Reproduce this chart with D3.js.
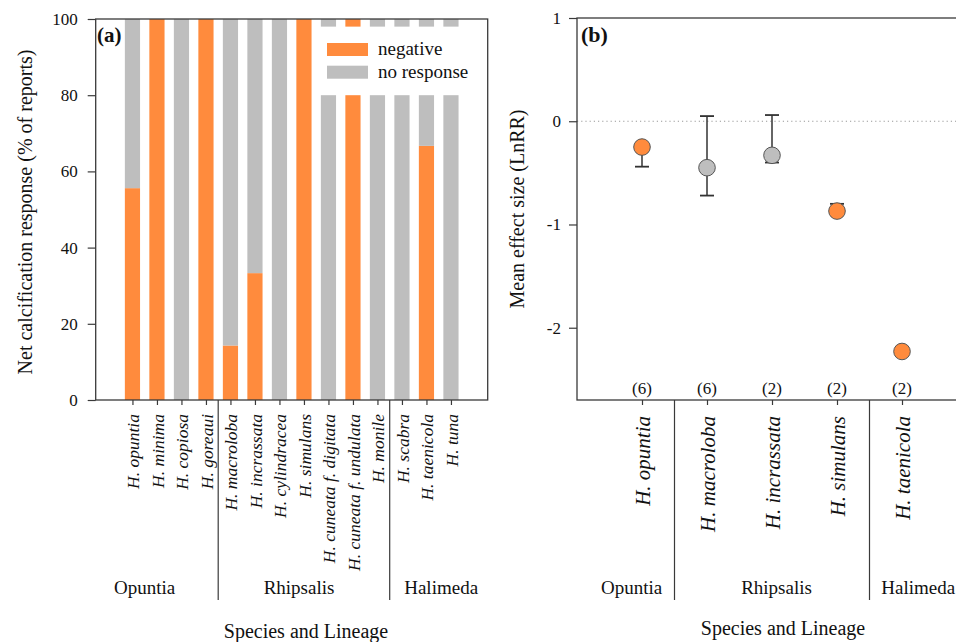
<!DOCTYPE html>
<html>
<head>
<meta charset="utf-8">
<script src="https://cdn.jsdelivr.net/npm/d3@7/dist/d3.min.js"></script>
<style>
body{margin:0;background:#fff;}
svg text{font-family:"Liberation Serif","Times New Roman",serif;fill:#111;}
</style>
</head>
<body>
<svg></svg>
<script>
// panel (a) data
var species = ["H. opuntia","H. minima","H. copiosa","H. goreaui","H. macroloba","H. incrassata",
    "H. cylindracea","H. simulans","H. cuneata f. digitata","H. cuneata f. undulata","H. monile",
    "H. scabra","H. taenicola","H. tuna"]
var negative = [55.6,100,0,100,14.3,33.3,0,100,0,100,0,0,66.7,0]
var brokenBars = ["H. cuneata f. digitata","H. cuneata f. undulata","H. monile","H. scabra","H. taenicola","H. tuna"]
var yTicksA = [0,20,40,60,80,100]

// panel (b) data
var effSpecies = ["H. opuntia","H. macroloba","H. incrassata","H. simulans","H. taenicola"]
var effMean = [-0.25,-0.45,-0.33,-0.87,-2.23]
var effLower = [-0.44,-0.72,-0.40,null,null]
var effUpper = [null,0.05,0.06,-0.80,null]
var effN = ["(6)","(6)","(2)","(2)","(2)"]
var effResp = ["negative","no response","no response","negative","negative"]
var yTicksB = [1,0,-1,-2]

var lineages = ["Opuntia","Rhipsalis","Halimeda"]

var width = 956, height = 642
var orange = "#FF8B3D", grey = "#BEBEBE", axisCol = "#3a3a3a"
var colorScale = d3.scaleOrdinal().domain(["negative","no response"]).range([orange,grey])

var svg = d3.select("svg").attr("width",width).attr("height",height)

// ---------- panel (a) ----------
var plotTop = 19, plotBottom = 400
var xA = d3.scaleLinear().domain([-0.5,15.5]).range([95.7,487.7])
var yA = d3.scaleLinear().domain([0,100]).range([plotBottom,plotTop])
var gapA = [80,98]
var barW = (xA(1)-xA(0))*0.62

var segs = []
species.forEach(function(s,i){
    var parts = [{lo:0,hi:negative[i],r:"negative"},{lo:negative[i],hi:100,r:"no response"}]
    parts.forEach(function(p){
        if(p.hi<=p.lo) return
        if(brokenBars.indexOf(s)!=-1){
            if(p.lo<gapA[0]) segs.push({i:i,lo:p.lo,hi:Math.min(p.hi,gapA[0]),r:p.r})
            if(p.hi>gapA[1]) segs.push({i:i,lo:Math.max(p.lo,gapA[1]),hi:p.hi,r:p.r})
        } else {
            segs.push({i:i,lo:p.lo,hi:p.hi,r:p.r})
        }
    })
})

svg.append("g").selectAll("rect")
    .data(segs)
    .enter()
    .append("rect")
        .attr("x",d => xA(d.i+1)-barW/2)
        .attr("width",barW)
        .attr("y",d => yA(d.hi))
        .attr("height",d => yA(d.lo)-yA(d.hi))
        .attr("fill",d => colorScale(d.r))

svg.append("rect")
    .attr("x",xA.range()[0]).attr("y",plotTop)
    .attr("width",xA.range()[1]-xA.range()[0]).attr("height",plotBottom-plotTop)
    .attr("fill","none").attr("stroke",axisCol).attr("stroke-width",1.3)

var yAxisA = d3.axisLeft(yA).tickValues(yTicksA).tickSize(8).tickPadding(10)
var gya = svg.append("g")
    .attr("transform","translate("+xA.range()[0]+",0)")
    .call(yAxisA)
gya.select(".domain").remove()
gya.selectAll("line").attr("stroke",axisCol).attr("stroke-width",1.2)
gya.selectAll("text").style("font-family","Liberation Serif").style("font-size","17px").attr("fill","#111")

var xAxisA = d3.axisBottom(xA).tickValues(species.map((s,i) => i+1)).tickSize(5)
    .tickFormat(d => species[d-1])
var gxa = svg.append("g")
    .attr("transform","translate(0,"+plotBottom+")")
    .call(xAxisA)
gxa.select(".domain").remove()
gxa.selectAll("line").attr("stroke",axisCol).attr("stroke-width",1.2)
gxa.selectAll("text")
    .attr("transform","rotate(-90)")
    .attr("x",-14).attr("y",0).attr("dy","0.35em")
    .style("text-anchor","end")
    .style("font-family","Liberation Serif")
    .style("font-style","italic")
    .style("font-size","17.5px")
    .attr("fill","#111")

// lineage dividers and labels
svg.append("g").selectAll("line")
    .data([4.5,11.5])
    .enter().append("line")
        .attr("x1",d => xA(d)).attr("x2",d => xA(d))
        .attr("y1",plotBottom).attr("y2",600)
        .attr("stroke",axisCol).attr("stroke-width",1.2)

svg.append("g").selectAll("text")
    .data([1.5,7.8,13.6])
    .enter().append("text")
        .attr("x",d => xA(d)).attr("y",594)
        .attr("text-anchor","middle")
        .style("font-size","19px")
        .text((d,i) => lineages[i])

svg.append("text")
    .attr("x",306).attr("y",638)
    .attr("text-anchor","middle")
    .style("font-size","20px")
    .text("Species and Lineage")

svg.append("text")
    .attr("transform","translate(25,"+212+") rotate(-90)")
    .attr("dy","0.35em")
    .attr("text-anchor","middle")
    .style("font-size","20px")
    .text("Net calcification response (% of reports)")

svg.append("text")
    .attr("x",97).attr("y",42)
    .style("font-size","21px").style("font-weight","bold")
    .text("(a)")

// legend
var legend = svg.append("g").selectAll("g")
    .data(colorScale.domain())
    .enter().append("g")
        .attr("transform",(d,i) => "translate(327,"+(43+i*22.7)+")")
legend.append("rect")
    .attr("width",41).attr("height",13)
    .attr("fill",d => colorScale(d))
legend.append("text")
    .attr("x",51).attr("y",12)
    .style("font-size","19px")
    .text(d => d)

// ---------- panel (b) ----------
var xB = d3.scaleLinear().domain([0,6]).range([577,967])
var yB = d3.scaleLinear().domain([-2.7,1]).range([plotBottom,18])

svg.append("line")
    .attr("x1",xB(0)).attr("x2",width)
    .attr("y1",yB(0)).attr("y2",yB(0))
    .attr("stroke","#999").attr("stroke-width",1.2).attr("stroke-dasharray","1.2,3")

svg.append("rect")
    .attr("x",xB.range()[0]).attr("y",yB.range()[1])
    .attr("width",xB.range()[1]-xB.range()[0]).attr("height",plotBottom-yB.range()[1])
    .attr("fill","none").attr("stroke",axisCol).attr("stroke-width",1.3)

var yAxisB = d3.axisLeft(yB).tickValues(yTicksB).tickSize(8).tickPadding(8)
    .tickFormat(d3.format("d"))
var gyb = svg.append("g")
    .attr("transform","translate("+xB.range()[0]+",0)")
    .call(yAxisB)
gyb.select(".domain").remove()
gyb.selectAll("line").attr("stroke",axisCol).attr("stroke-width",1.2)
gyb.selectAll("text").style("font-family","Liberation Serif").style("font-size","17px").attr("fill","#111")
    .text(d => d<0 ? "-"+Math.abs(d) : d)

var xAxisB = d3.axisBottom(xB).tickValues(effSpecies.map((s,i) => i+1)).tickSize(5)
    .tickFormat(d => effSpecies[d-1])
var gxb = svg.append("g")
    .attr("transform","translate(0,"+plotBottom+")")
    .call(xAxisB)
gxb.select(".domain").remove()
gxb.selectAll("line").attr("stroke",axisCol).attr("stroke-width",1.2)
gxb.selectAll("text")
    .attr("transform","rotate(-90)")
    .attr("x",-16).attr("y",0).attr("dy","0.35em")
    .style("text-anchor","end")
    .style("font-family","Liberation Serif")
    .style("font-style","italic")
    .style("font-size","21px")
    .attr("fill","#111")

// error bars
var errs = []
effSpecies.forEach(function(s,i){
    if(effLower[i]!=null) errs.push({i:i,v:effLower[i]})
    if(effUpper[i]!=null) errs.push({i:i,v:effUpper[i]})
})
var eb = svg.append("g").selectAll("g")
    .data(errs)
    .enter().append("g")
eb.append("line")
    .attr("x1",d => xB(d.i+1)).attr("x2",d => xB(d.i+1))
    .attr("y1",d => yB(effMean[d.i])).attr("y2",d => yB(d.v))
    .attr("stroke","#333").attr("stroke-width",1.5)
eb.append("line")
    .attr("x1",d => xB(d.i+1)-7).attr("x2",d => xB(d.i+1)+7)
    .attr("y1",d => yB(d.v)).attr("y2",d => yB(d.v))
    .attr("stroke","#333").attr("stroke-width",1.8)

svg.append("g").selectAll("circle")
    .data(effSpecies)
    .enter().append("circle")
        .attr("cx",(d,i) => xB(i+1))
        .attr("cy",(d,i) => yB(effMean[i]))
        .attr("r",8.3)
        .attr("fill",(d,i) => colorScale(effResp[i]))
        .attr("stroke","#555").attr("stroke-width",1)

svg.append("g").selectAll("text")
    .data(effN)
    .enter().append("text")
        .attr("x",(d,i) => xB(i+1)).attr("y",394)
        .attr("text-anchor","middle")
        .style("font-size","17px")
        .text(d => d)

svg.append("g").selectAll("line")
    .data([1.5,4.5])
    .enter().append("line")
        .attr("x1",d => xB(d)).attr("x2",d => xB(d))
        .attr("y1",plotBottom).attr("y2",600)
        .attr("stroke",axisCol).attr("stroke-width",1.2)

svg.append("g").selectAll("text")
    .data([0.84,3.07,5.25])
    .enter().append("text")
        .attr("x",d => xB(d)).attr("y",594)
        .attr("text-anchor","middle")
        .style("font-size","19px")
        .text((d,i) => lineages[i])

svg.append("text")
    .attr("x",783).attr("y",635)
    .attr("text-anchor","middle")
    .style("font-size","20px")
    .text("Species and Lineage")

svg.append("text")
    .attr("transform","translate(517,209) rotate(-90)")
    .attr("dy","0.35em")
    .attr("text-anchor","middle")
    .style("font-size","20px")
    .text("Mean effect size (LnRR)")

svg.append("text")
    .attr("x",581).attr("y",42)
    .style("font-size","22px").style("font-weight","bold")
    .text("(b)")
</script>
</body>
</html>
